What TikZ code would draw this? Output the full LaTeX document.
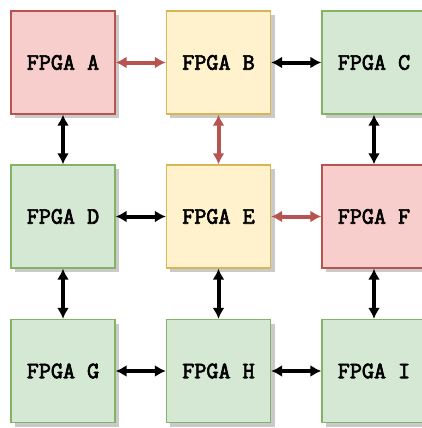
\documentclass[tikz,border=0pt]{standalone}
\usepackage{fontspec}
\setmonofont{Latin Modern Mono}[BoldFont={Latin Modern Mono},BoldFeatures={FakeBold=3}]
\usetikzlibrary{arrows.meta,shadows}
\definecolor{redfill}{HTML}{F8CECC}
\definecolor{redline}{HTML}{B85450}
\definecolor{yelfill}{HTML}{FFF2CC}
\definecolor{yelline}{HTML}{D6B656}
\definecolor{grnfill}{HTML}{D5E8D4}
\definecolor{grnline}{HTML}{82B366}
\tikzset{
  fpga/.style={minimum width=104bp, minimum height=103bp, inner sep=0pt, line width=1.3bp,
    font=\ttfamily\bfseries\fontsize{23.5}{25}\selectfont,
    drop shadow={shadow xshift=4bp, shadow yshift=-4bp, fill=black!35, opacity=0.6}},
  redbox/.style={fpga, draw=redline, fill=redfill},
  yelbox/.style={fpga, draw=yelline, fill=yelfill},
  grnbox/.style={fpga, draw=grnline, fill=grnfill},
  link/.style={line width=4bp, {Latex[length=11bp,width=12bp]}-{Latex[length=11bp,width=12bp]}, black},
  redlink/.style={link, redline},
}
\begin{document}
\begin{tikzpicture}[x=1bp,y=-1bp]
\useasboundingbox (0,0) rectangle (422,428);
\node[redbox] (A) at (63,62.5) {FPGA A};
\node[yelbox] (B) at (218.5,62.5) {FPGA B};
\node[grnbox] (C) at (374,62.5) {FPGA C};
\node[grnbox] (D) at (63,216.5) {FPGA D};
\node[yelbox] (E) at (218.5,216.5) {FPGA E};
\node[redbox] (F) at (374,216.5) {FPGA F};
\node[grnbox] (G) at (63,371) {FPGA G};
\node[grnbox] (H) at (218.5,371) {FPGA H};
\node[grnbox] (I) at (374,371) {FPGA I};
\draw[redlink] (A) -- (B);
\draw[link] (B) -- (C);
\draw[link] (D) -- (E);
\draw[redlink] (E) -- (F);
\draw[link] (G) -- (H);
\draw[link] (H) -- (I);
\draw[link] (A) -- (D);
\draw[redlink] (B) -- (E);
\draw[link] (C) -- (F);
\draw[link] (D) -- (G);
\draw[link] (E) -- (H);
\draw[link] (F) -- (I);
\end{tikzpicture}
\end{document}
